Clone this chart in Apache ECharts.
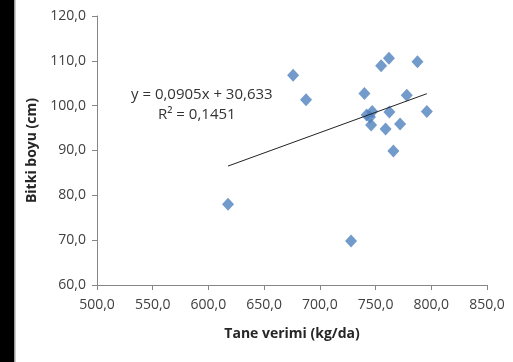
<!DOCTYPE html>
<html>
<head>
<meta charset="utf-8">
<style>
  html, body { margin: 0; padding: 0; background: #fff; }
  #chart { width: 513px; height: 362px; }
</style>
<script src="https://cdn.jsdelivr.net/npm/echarts@6/dist/echarts.min.js"></script>
</head>
<body>
<div id="chart"></div>
<script>
// tane verimi (kg/da) vs bitki boyu (cm)
var taneVerimi = [617.6, 676, 687.6, 728, 740, 742, 747, 746, 745, 755, 762, 787.6, 778, 762.4, 796, 772, 759, 766]
var bitkiBoyu = [78.0, 106.8, 101.3, 69.8, 102.7, 97.9, 98.7, 95.7, 97.5, 108.9, 110.6, 109.8, 102.3, 98.6, 98.7, 95.9, 94.8, 89.9]
// trend line coefficients as shown on the chart
var trendCoef = [0.0905, 30.633]
var trendText = ['y = 0,0905x + 30,633', 'R\u00b2 = 0,1451']

var fontFam = "'Open Sans', sans-serif"

var points = taneVerimi.map(function (x, i) { return [x, bitkiBoyu[i]] })
var xMin = Math.min.apply(null, taneVerimi)
var xMax = Math.max.apply(null, taneVerimi)
var trend = [xMin, xMax].map(function (x) { return [x, trendCoef[0] * x + trendCoef[1]] })

function fmt(v) {
  return v.toFixed(1).replace('.', ',')
}

var chart = echarts.init(document.getElementById('chart'))
chart.setOption({
  animation: false,
  backgroundColor: '#fff',
  grid: { left: 97, right: 26, top: 16, bottom: 77 },
  xAxis: {
    type: 'value',
    min: 500,
    max: 850,
    interval: 50,
    name: 'Tane verimi (kg/da)',
    nameLocation: 'middle',
    nameGap: 42,
    nameTextStyle: { fontFamily: fontFam, fontWeight: 'bold', fontSize: 14, color: '#262626' },
    axisLine: { lineStyle: { color: '#868686', width: 1 } },
    axisTick: { show: true, length: 5, lineStyle: { color: '#868686' } },
    axisLabel: { formatter: fmt, fontFamily: fontFam, fontSize: 14, color: '#404040', margin: 13 },
    splitLine: { show: false }
  },
  yAxis: {
    type: 'value',
    min: 60,
    max: 120,
    interval: 10,
    name: 'Bitki boyu (cm)',
    nameLocation: 'middle',
    nameGap: 48,
    nameTextStyle: { fontFamily: fontFam, fontWeight: 'bold', fontSize: 14, color: '#262626' },
    axisLine: { show: true, lineStyle: { color: '#868686', width: 1 } },
    axisTick: { show: true, length: 5, lineStyle: { color: '#868686' } },
    axisLabel: { formatter: fmt, fontFamily: fontFam, fontSize: 14, color: '#404040', margin: 11 },
    splitLine: { show: false }
  },
  graphic: [
    { type: 'rect', shape: { x: 0, y: 0, width: 14, height: 362 }, style: { fill: '#000' } },
    { type: 'rect', shape: { x: 14, y: 0, width: 1.5, height: 362 }, style: { fill: '#9a9a9a' } },
    {
      type: 'text', left: 131, top: 87,
      style: { text: trendText[0], fontFamily: fontFam, fontSize: 15, fill: '#333' }
    },
    {
      type: 'text', left: 158, top: 107,
      style: { text: trendText[1], fontFamily: fontFam, fontSize: 15, fill: '#333' }
    }
  ],
  series: [
    {
      type: 'scatter',
      data: points,
      symbol: 'diamond',
      symbolSize: [12, 13],
      itemStyle: { color: '#4F81BD' }
    },
    {
      type: 'line',
      data: trend,
      symbol: 'none',
      lineStyle: { color: '#222', width: 1 }
    }
  ]
})
</script>
</body>
</html>
